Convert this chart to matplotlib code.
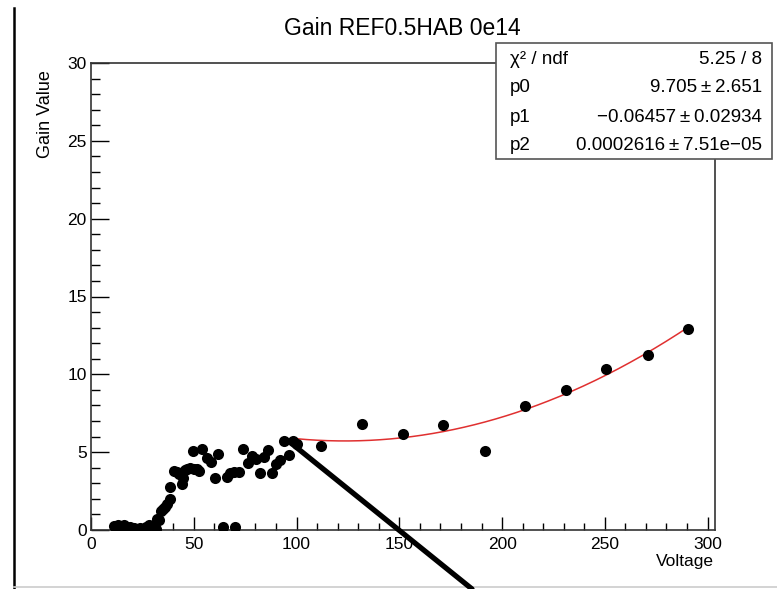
import matplotlib
matplotlib.use("Agg")
import matplotlib.pyplot as plt
import numpy as np
from matplotlib.patches import Rectangle, ConnectionPatch
from matplotlib.lines import Line2D
from matplotlib.ticker import MultipleLocator

plt.rcParams['font.family'] = ['Liberation Sans', 'DejaVu Sans']

# ---- data ----
volt_low = [11, 12, 13, 14, 15, 16, 17, 18, 19, 20, 21, 22, 23, 24, 25, 26, 27, 28,
            30.5, 31.5, 32, 33, 34, 35.2, 36, 37.1, 38.4, 38.4, 40.2, 41.7, 42.8, 44.1,
            44.6, 45.6, 46.8, 48.2, 49.5, 50.3, 51.5, 52.5, 54.2, 56.3, 58.2, 60.2, 61.8,
            64, 66, 67.8, 69.6, 70.1, 72.2, 74.1, 76.2, 78.4, 80.5, 82.2, 84.2, 86.3,
            88.1, 90, 92, 94.1, 96.1, 98.1, 100.1]
gain_low = [0.25, 0.1, 0.35, 0.0, 0.2, 0.3, 0.15, 0.1, 0.2, 0.0, 0.1, 0.05, 0.0, 0.1, 0.0, 0.05, 0.2, 0.3,
            0.3, 0.05, 0.7, 0.65, 1.24, 1.35, 1.46, 1.65, 1.99, 2.74, 3.81, 3.7, 3.6, 2.95,
            3.35, 3.85, 3.95, 3.96, 5.1, 3.9, 3.9, 3.81, 5.18, 4.61, 4.35, 3.32, 4.9,
            0.2, 3.39, 3.66, 3.75, 0.22, 3.75, 5.18, 4.3, 4.74, 4.55, 3.68, 4.72, 5.12,
            3.68, 4.22, 4.5, 5.7, 4.8, 5.7, 5.53]
volt_fit = [112, 132, 151.8, 171.4, 191.7, 211.3, 231, 250.8, 270.9, 290.5]
gain_fit = [5.40, 6.79, 6.17, 6.73, 5.10, 7.99, 9.0, 10.33, 11.27, 12.94]

# fit parameters (pol2)
p0, p1, p2 = 9.705, -0.06457, 0.0002616
fit_range = (100, 290.5)

stat_names = ["χ² / ndf", "p0", "p1", "p2"]
stat_values = ["5.25 / 8", "9.705\u2009±\u20092.651", "−0.06457\u2009±\u20090.02934",
               "0.0002616\u2009±\u20097.51e−05"]

# ---- figure ----
W, H = 777, 589
fig = plt.figure(figsize=(W / 100, H / 100), dpi=100)
ax = fig.add_axes([91 / W, 1 - 530 / H, (715 - 91) / W, (530 - 63) / H])

ax.plot(volt_low + volt_fit, gain_low + gain_fit, 'o', color='black', markersize=8,
        markeredgewidth=0, zorder=3)
xf = np.linspace(fit_range[0], fit_range[1], 300)
ax.plot(xf, p0 + p1 * xf + p2 * xf ** 2, color='#e03030', lw=1.1, zorder=2)

ax.set_xlim(0, 303.6)
ax.set_ylim(0, 30)
ax.xaxis.set_major_locator(MultipleLocator(50))
ax.xaxis.set_minor_locator(MultipleLocator(10))
ax.yaxis.set_major_locator(MultipleLocator(5))
ax.yaxis.set_minor_locator(MultipleLocator(1))
ax.tick_params(axis='x', which='major', direction='in', length=9.5, width=1, pad=5,
               labelsize=12.5, top=False)
ax.tick_params(axis='x', which='minor', direction='in', length=5, width=1, top=False)
ax.tick_params(axis='y', which='major', direction='in', length=13, width=1, pad=3,
               labelsize=12.5, right=False)
ax.tick_params(axis='y', which='minor', direction='in', length=6.5, width=1, right=False)
for s in ax.spines.values():
    s.set_linewidth(1.2)
    s.set_color('#333333')

# titles
fig.text(402 / W, 1 - 35 / H, "Gain REF0.5HAB 0e14", ha='center', va='baseline', fontsize=16.5)
fig.text(46 / W, 1 - 114 / H, "Gain Value", rotation=90, ha='center', va='center', fontsize=13)
fig.text(714 / W, 1 - 566 / H, "Voltage", ha='right', va='baseline', fontsize=12.5)

# stats box
bx0, bx1, by0, by1 = 496, 772, 43, 159
fig.patches.append(Rectangle((bx0 / W, 1 - by1 / H), (bx1 - bx0) / W, (by1 - by0) / H,
                             transform=fig.transFigure, facecolor='white',
                             edgecolor='#555555', lw=1.2, zorder=5))
rows_y = [60, 88, 117, 145]
for name, val, ry in zip(stat_names, stat_values, rows_y):
    fig.text(510 / W, 1 - ry / H, name, ha='left', va='center', fontsize=13.5, zorder=6)
    fig.text(762 / W, 1 - ry / H, val, ha='right', va='center', fontsize=13.5, zorder=6)

# annotation line drawn over the chart
con = ConnectionPatch(xyA=(98.5, 5.46), coordsA=ax.transData,
                      xyB=(472 / W, 0.0), coordsB=fig.transFigure,
                      color='black', lw=3.8, zorder=10)
fig.add_artist(con)

# frame lines of the screenshot
fig.add_artist(Line2D([14 / W, 14 / W], [0, 1 - 8 / H], transform=fig.transFigure,
                      color='black', lw=1.8))
fig.add_artist(Line2D([14 / W, 1], [1 - 587 / H, 1 - 587 / H], transform=fig.transFigure,
                      color='#cccccc', lw=1.2))

fig.savefig("out.png", dpi=100)
